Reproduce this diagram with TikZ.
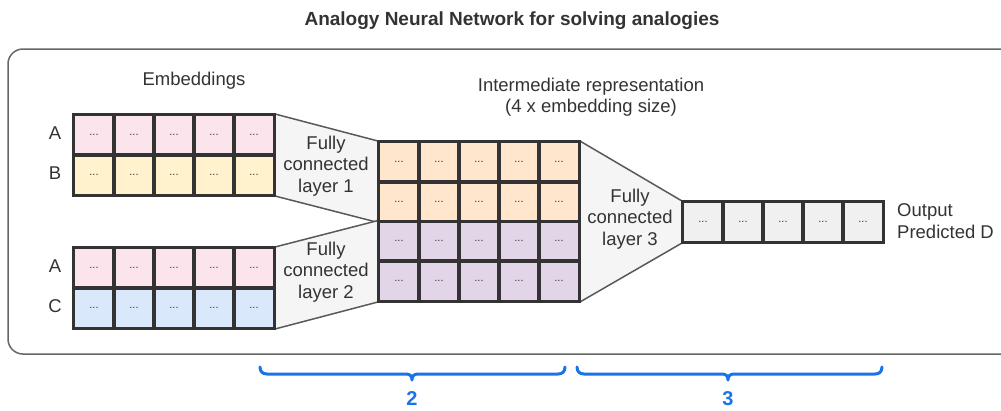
\documentclass[tikz,border=0pt]{standalone}
\usepackage{fontspec}
\setmainfont{Liberation Sans}
\definecolor{txt}{HTML}{333333}
\definecolor{pinkc}{HTML}{FCE4EC}
\definecolor{yellowc}{HTML}{FFF2CC}
\definecolor{orangec}{HTML}{FFE6CC}
\definecolor{purplec}{HTML}{E1D5E7}
\definecolor{bluec}{HTML}{DAE8FC}
\definecolor{greyc}{HTML}{F0F0F0}
\definecolor{trapc}{HTML}{F5F5F5}
\definecolor{edgec}{HTML}{595959}
\definecolor{framec}{HTML}{666666}
\definecolor{bracec}{HTML}{1A73E8}
\begin{document}
\begin{tikzpicture}[x=1pt,y=-1pt,
  cell/.style={draw=txt, line width=2pt, minimum width=40pt, minimum height=40pt, inner sep=0pt, font=\fontsize{11}{13}\selectfont, text=txt},
  icell/.style={cell, minimum height=39.75pt},
  lbl/.style={font=\fontsize{18.5}{21.5}\selectfont, text=txt, align=center, inner sep=0pt},
  trap/.style={draw=edgec, line width=1.5pt, line cap=round},
  brace/.style={draw=bracec, line width=3pt, line cap=round, line join=round},
  bnum/.style={font=\fontsize{20}{24}\selectfont\bfseries, text=bracec, inner sep=0pt}
]
\useasboundingbox (0,0) rectangle (1001,410);

% title
\node[lbl, font=\fontsize{19}{22}\selectfont\bfseries] (title) at (512,21) {Analogy Neural Network for solving analogies};

% frame
\node[draw=framec, line width=1.5pt, rounded corners=15pt, minimum width=1010pt, minimum height=305pt, inner sep=0pt] (frame) at (513,201.5) {};

% headings
\node[lbl] (emb) at (194,81) {Embeddings};
\node[lbl] (inter) at (591,97) {Intermediate representation\\(4 x embedding size)};

% embedding cells
\foreach \i in {1,...,5}{
  \node[cell, fill=pinkc] (eA\i) at (54+40*\i,135) {...};
  \node[cell, fill=yellowc] (eB\i) at (54+40*\i,175) {...};
  \node[cell, fill=pinkc] (fA\i) at (54+40*\i,268) {...};
  \node[cell, fill=bluec] (fC\i) at (54+40*\i,308) {...};
}
% intermediate cells
\foreach \i in {1,...,5}{
  \node[icell, fill=orangec] (m1\i) at (359+40*\i,161.9) {...};
  \node[icell, fill=orangec] (m2\i) at (359+40*\i,201.6) {...};
  \node[icell, fill=purplec] (m3\i) at (359+40*\i,241.4) {...};
  \node[icell, fill=purplec] (m4\i) at (359+40*\i,281.1) {...};
}
% output cells
\foreach \i in {1,...,5}{
  \node[cell, fill=greyc] (o\i) at (663+40*\i,222) {...};
}

% fully connected layers (trapezoids)
\fill[trapc] (eA5.north east) -- (m11.north west) -- (m21.south west) -- (eB5.south east) -- cycle;
\draw[trap] (eA5.north east) -- (m11.north west);
\draw[trap] (eB5.south east) -- (m21.south west);
\fill[trapc] (fA5.north east) -- (m31.north west) -- (m41.south west) -- (fC5.south east) -- cycle;
\draw[trap] (fA5.north east) -- (m31.north west);
\draw[trap] (fC5.south east) -- (m41.south west);
\fill[trapc] (m15.north east) -- (o1.north west) -- (o1.south west) -- (m45.south east) -- cycle;
\draw[trap] (m15.north east) -- (o1.north west);
\draw[trap] (m45.south east) -- (o1.south west);

% redraw block borders on top
\foreach \i in {1,...,5}{
  \draw[draw=txt, line width=2pt] (eA\i.north west) rectangle (eA\i.south east);
  \draw[draw=txt, line width=2pt] (eB\i.north west) rectangle (eB\i.south east);
  \draw[draw=txt, line width=2pt] (fA\i.north west) rectangle (fA\i.south east);
  \draw[draw=txt, line width=2pt] (fC\i.north west) rectangle (fC\i.south east);
  \draw[draw=txt, line width=2pt] (m1\i.north west) rectangle (m1\i.south east);
  \draw[draw=txt, line width=2pt] (m2\i.north west) rectangle (m2\i.south east);
  \draw[draw=txt, line width=2pt] (m3\i.north west) rectangle (m3\i.south east);
  \draw[draw=txt, line width=2pt] (m4\i.north west) rectangle (m4\i.south east);
  \draw[draw=txt, line width=2pt] (o\i.north west) rectangle (o\i.south east);
}

% layer labels
\node[lbl] (fc1) at (326,166) {Fully\\connected\\layer 1};
\node[lbl] (fc2) at (326,272) {Fully\\connected\\layer 2};
\node[lbl] (fc3) at (630,219) {Fully\\connected\\layer 3};

% row labels
\node[lbl] (la1) at (55,133) {A};
\node[lbl] (lb) at (55,173) {B};
\node[lbl] (la2) at (55,266) {A};
\node[lbl] (lc) at (55,306) {C};

% output label
\node[lbl, align=left, anchor=west] (out) at (897,221) {Output\\Predicted D};

% braces
\coordinate (b2l) at (260,367);
\coordinate (b2t) at (412,380);
\coordinate (b2r) at (565,367);
\coordinate (b3l) at (577,367);
\coordinate (b3t) at (728,380);
\coordinate (b3r) at (882,367);
\draw[brace] (b2l) .. controls (260,372) and (263,374) .. (267,374) -- (406,374)
  .. controls (410,374) and (412,376) .. (b2t) .. controls (412,376) and (414,374) .. (418,374)
  -- (558,374) .. controls (562,374) and (565,372) .. (b2r);
\draw[brace] (b3l) .. controls (577,372) and (580,374) .. (584,374) -- (722,374)
  .. controls (726,374) and (728,376) .. (b3t) .. controls (728,376) and (730,374) .. (734,374)
  -- (875,374) .. controls (879,374) and (882,372) .. (b3r);
\node[bnum] (n2) at (412,399) {2};
\node[bnum] (n3) at (728,399) {3};
\end{tikzpicture}
\end{document}
